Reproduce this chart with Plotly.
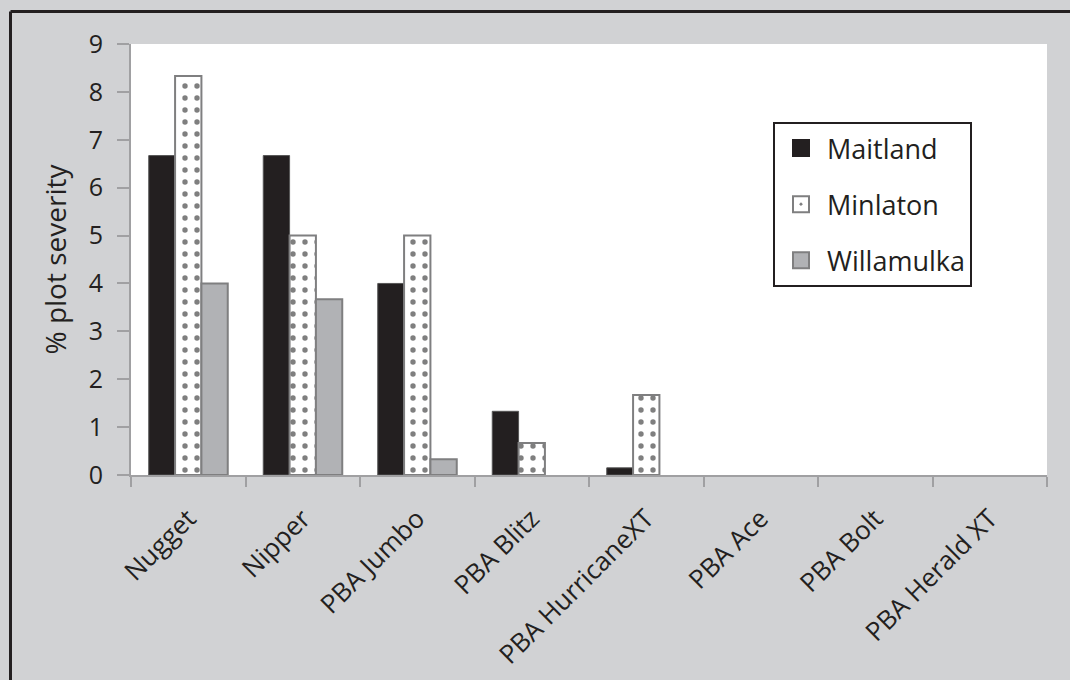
import plotly.graph_objects as go

categories = ["Nugget", "Nipper", "PBA Jumbo", "PBA Blitz", "PBA HurricaneXT",
              "PBA Ace", "PBA Bolt", "PBA Herald XT"]
maitland = [6.67, 6.67, 4.0, 1.33, 0.15, 0, 0, 0]
minlaton = [8.33, 5.0, 5.0, 0.67, 1.67, 0, 0, 0]
willamulka = [4.0, 3.67, 0.33, 0, 0, 0, 0, 0]
y_ticks = [0, 1, 2, 3, 4, 5, 6, 7, 8, 9]

FONT = "Open Sans, Liberation Sans, sans-serif"
TXT = "#231f20"
EDGE = "#7f7f80"
AX = "#a0a0a2"

series = [
    ("Maitland", maitland, dict(color="#231f20"), "#555555", 1, "#231f20"),
    ("Minlaton", minlaton,
     dict(color="white", pattern=dict(shape=".", fgcolor="black", bgcolor="white",
                                      size=12, solidity=0.16, fillmode="overlay")),
     EDGE, 2, "white"),
    ("Willamulka", willamulka, dict(color="#b1b2b5"), EDGE, 2, "#b1b2b5"),
]

fig = go.Figure()
for name, vals, mk, lc, lw, legcol in series:
    fig.add_trace(go.Bar(
        name=name, x=categories, y=vals, showlegend=False, legendgroup=name,
        marker=dict(**mk, line=dict(color=lc, width=[lw if v else 0 for v in vals])),
    ))
# legend proxies (no data drawn)
for name, vals, mk, lc, lw, legcol in series:
    fig.add_trace(go.Scatter(
        name=name, x=[None], y=[None], mode="markers", legendgroup=name,
        marker=dict(symbol="square-dot" if name == "Minlaton" else "square", size=18,
                    color=legcol,
                    line=dict(color=lc if name != "Maitland" else "#231f20", width=2)),
    ))

W, H = 1070, 680
L, R, T, B = 131, 23, 44, 205
pw, ph = W - L - R, H - T - B
bx = (10.5 - L) / pw
by = 1 + (T - 11.5) / ph

fig.update_layout(
    width=W, height=H,
    margin=dict(l=L, r=R, t=T, b=B, autoexpand=False),
    paper_bgcolor="#d1d2d4",
    plot_bgcolor="white",
    barmode="group",
    bargap=0.31,
    bargroupgap=0,
    font=dict(family=FONT, color=TXT, size=24),
    showlegend=True,
    legend=dict(x=(773 - L) / pw, y=1 - (122 - T) / ph, xanchor="left", yanchor="top",
                bgcolor="white", bordercolor="#231f20", borderwidth=2,
                font=dict(size=27, family=FONT, color=TXT),
                traceorder="grouped", tracegroupgap=18, itemwidth=42),
    xaxis=dict(
        tickangle=-45, tickfont=dict(size=26, family=FONT, color=TXT),
        ticks="outside", tickson="boundaries", ticklen=10, tickwidth=2, tickcolor=AX,
        showline=True, linecolor=AX, linewidth=2,
        showgrid=False, automargin=False, ticklabelstandoff=16,
    ),
    yaxis=dict(
        range=[0, 9], tickvals=y_ticks, ticktext=[str(v) for v in y_ticks],
        ticks="outside", ticklen=12, tickwidth=2, tickcolor=AX,
        showline=True, linecolor=AX, linewidth=2,
        showgrid=False, zeroline=False, automargin=False,
        tickfont=dict(size=25, family=FONT, color=TXT),
        ticklabelstandoff=9,
        title=dict(text="% plot severity", font=dict(size=28, family=FONT, color=TXT),
                   standoff=14),
    ),
    shapes=[
        dict(type="line", xref="paper", yref="paper", x0=bx, x1=bx, y0=-0.6, y1=by,
             line=dict(color="#231f20", width=3)),
        dict(type="line", xref="paper", yref="paper", x0=bx, x1=1.2, y0=by, y1=by,
             line=dict(color="#231f20", width=3)),
    ],
)

fig.write_html("out.html", config={"displayModeBar": False},
               post_script="document.body.style.margin='0';document.body.style.overflow='hidden';")
